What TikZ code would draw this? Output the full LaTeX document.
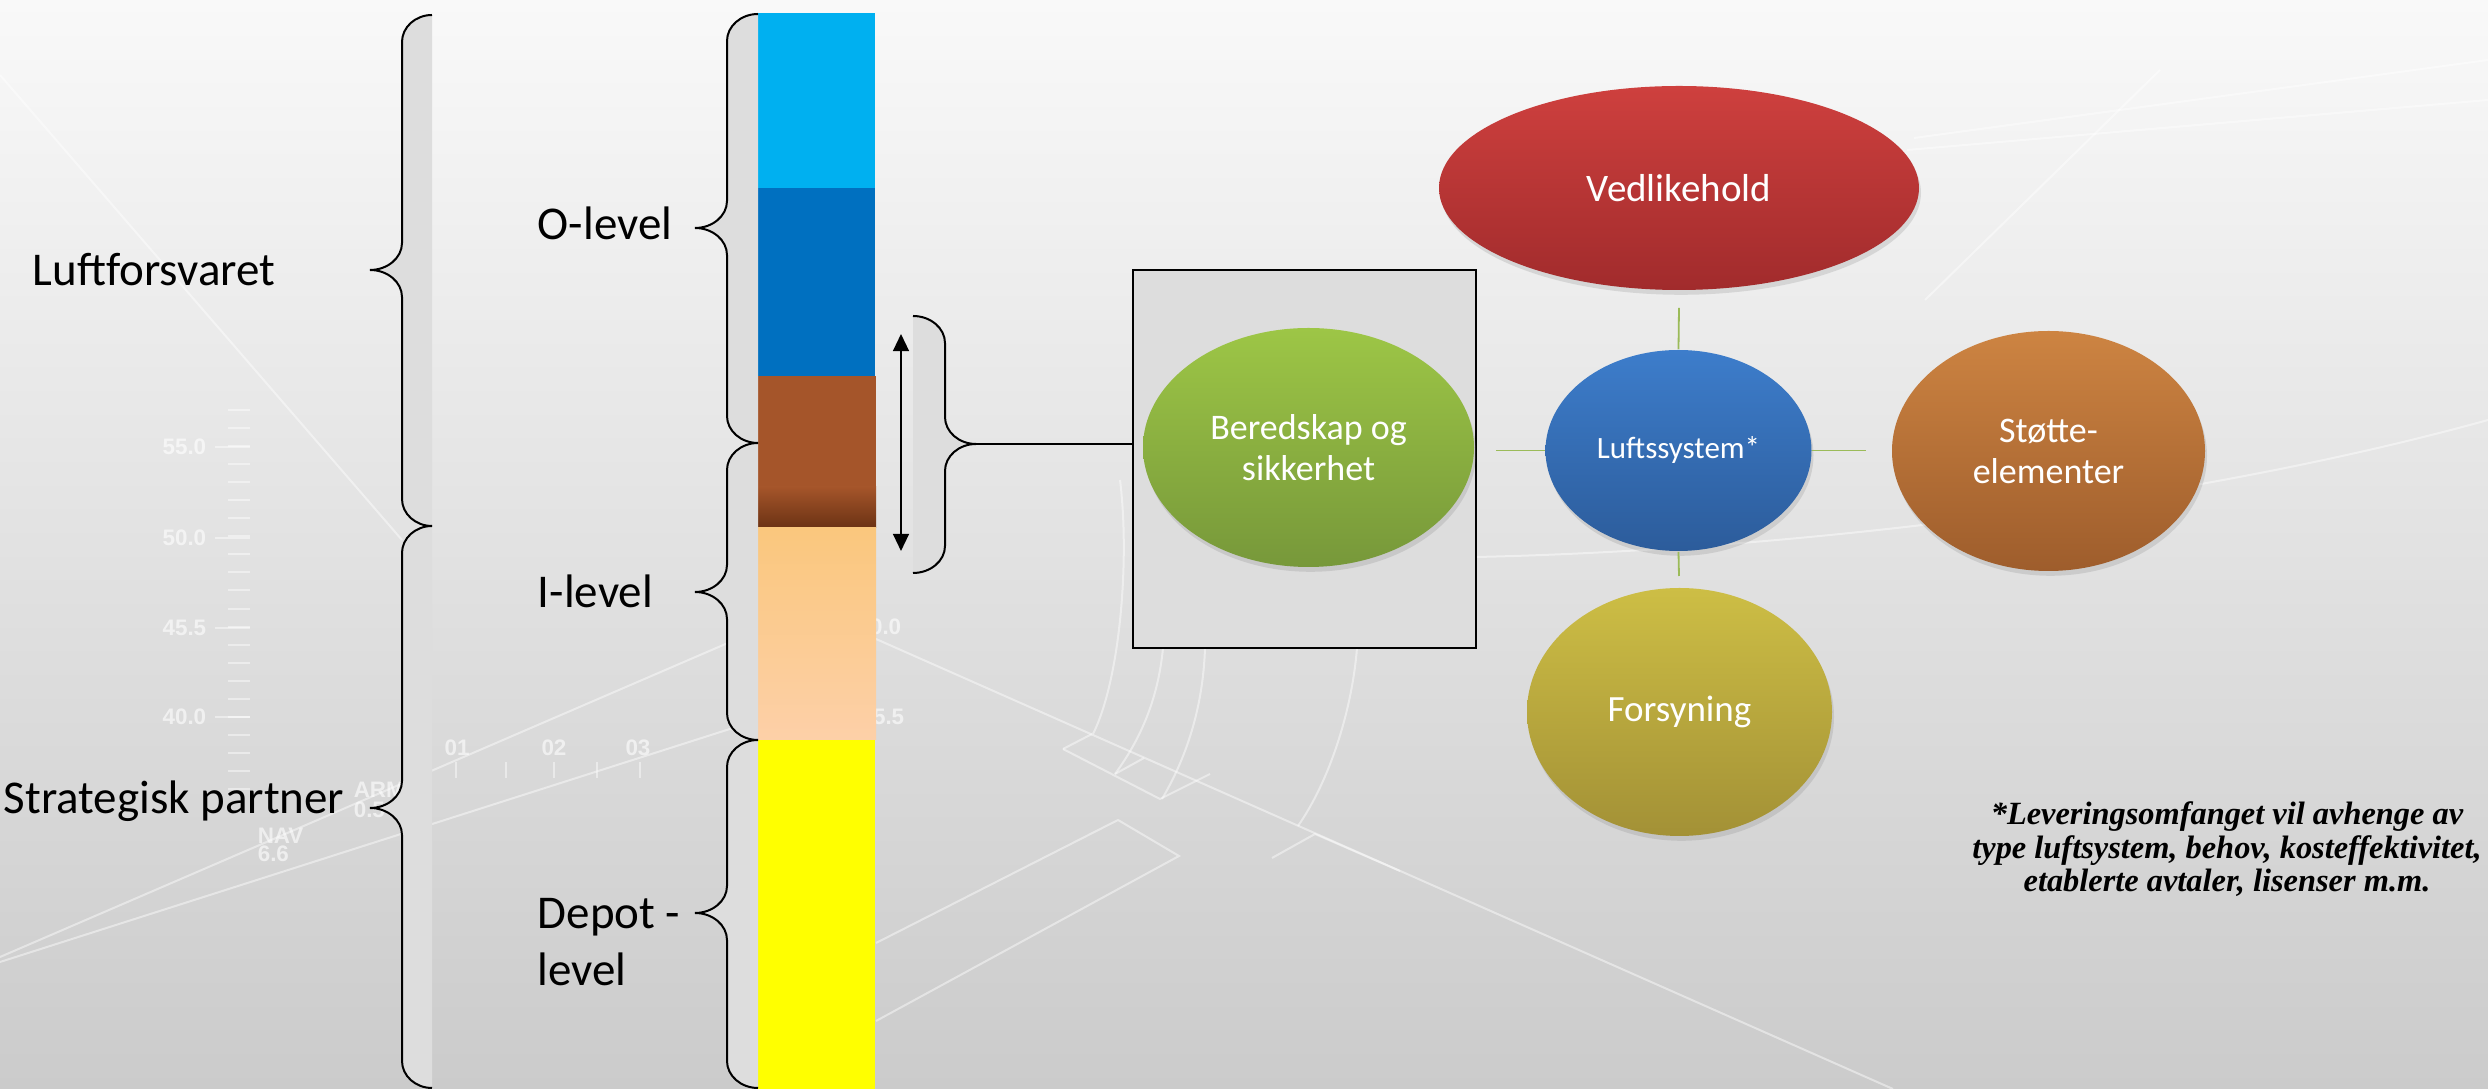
\documentclass[tikz,border=0pt]{standalone}
\usepackage{fontspec}
\setmainfont{Carlito}
\newfontfamily\notefont{Liberation Serif}
\newfontfamily\hudfont{Liberation Sans}
\usetikzlibrary{arrows.meta,shapes.geometric,shadows}
\definecolor{bgtop}{RGB}{249,249,249}
\definecolor{bgbot}{RGB}{203,203,203}
\definecolor{bracefill}{RGB}{221,221,221}
\definecolor{boxgray}{RGB}{221,221,221}
\definecolor{lblue}{RGB}{0,176,240}
\definecolor{dblue}{RGB}{0,112,192}
\definecolor{brownA}{RGB}{165,85,42}
\definecolor{brownB}{RGB}{107,50,20}
\definecolor{peachT}{RGB}{250,199,125}
\definecolor{peachB}{RGB}{253,208,168}
\definecolor{yel}{RGB}{255,255,0}
\definecolor{vedT}{RGB}{206,64,62}
\definecolor{vedB}{RGB}{161,43,44}
\definecolor{grT}{RGB}{157,198,70}
\definecolor{grB}{RGB}{119,152,58}
\definecolor{blT}{RGB}{61,125,203}
\definecolor{blB}{RGB}{44,92,155}
\definecolor{orT}{RGB}{205,132,66}
\definecolor{orB}{RGB}{158,93,44}
\definecolor{olT}{RGB}{205,190,69}
\definecolor{olB}{RGB}{163,145,54}
\definecolor{spokecol}{RGB}{155,187,89}
\tikzset{
  braceline/.style={draw=black,line width=0.5pt},
  bracearea/.style={fill=bracefill},
  hud/.style={draw=white,line width=0.5pt,opacity=0.45},
  hudtxt/.style={text=white,opacity=0.6,font=\hudfont\bfseries\fontsize{5.6pt}{6pt}\selectfont,inner sep=0pt},
  lbl/.style={font=\fontsize{11.75pt}{14.25pt}\selectfont,inner sep=0pt,align=left},
  bub/.style={ellipse,inner sep=0pt,text=white,align=center,
    drop shadow={shadow xshift=0.5pt,shadow yshift=-1.2pt,opacity=0.22}},
  bubtxt/.style={font=\fontsize{9pt}{10.25pt}\selectfont},
  spoke/.style={draw=spokecol,line width=0.45pt},
  note/.style={font=\notefont\bfseries\itshape\fontsize{8.1pt}{8.4pt}\selectfont,align=center,inner sep=0pt}
}
% #1 edge x, #2 vertical x, #3 tip x, #4 top y, #5 tip y, #6 bottom y, #7 radius
\newcommand{\drawbrace}[7]{%
  \fill[bracearea] (#1,#4) .. controls ({#1-0.55*(#1-#2)},#4) and (#2,{#4+0.45*#7}) .. (#2,{#4+#7})
    -- (#2,{#5-#7}) .. controls (#2,{#5-0.45*#7}) and ({#3+0.55*(#2-#3)},#5) .. (#3,#5)
    .. controls ({#3+0.55*(#2-#3)},#5) and (#2,{#5+0.45*#7}) .. (#2,{#5+#7})
    -- (#2,{#6-#7}) .. controls (#2,{#6-0.45*#7}) and ({#1-0.55*(#1-#2)},#6) .. (#1,#6) -- cycle;
  \draw[braceline] (#1,#4) .. controls ({#1-0.55*(#1-#2)},#4) and (#2,{#4+0.45*#7}) .. (#2,{#4+#7})
    -- (#2,{#5-#7}) .. controls (#2,{#5-0.45*#7}) and ({#3+0.55*(#2-#3)},#5) .. (#3,#5)
    .. controls ({#3+0.55*(#2-#3)},#5) and (#2,{#5+0.45*#7}) .. (#2,{#5+#7})
    -- (#2,{#6-#7}) .. controls (#2,{#6-0.45*#7}) and ({#1-0.55*(#1-#2)},#6) .. (#1,#6);}
\begin{document}
\begin{tikzpicture}[x=0.25pt,y=-0.25pt]
\useasboundingbox (0,0) rectangle (2488,1089);
\fill[top color=bgtop,bottom color=bgbot] (0,0) rectangle (2488,1089);
% faint HUD background
\foreach \k in {0,...,21} \draw[hud] (228,{410+18.05*\k}) -- (250,{410+18.05*\k});
\foreach \yy in {447,538,628,717} \draw[hud] (215,\yy) -- (250,\yy);
\node[hudtxt,anchor=east] (h55) at (207,447) {55.0};
\node[hudtxt,anchor=east] (h50) at (207,538) {50.0};
\node[hudtxt,anchor=east] (h45) at (207,628) {45.5};
\node[hudtxt,anchor=east] (h40) at (207,717) {40.0};
\node[hudtxt,anchor=east] (r50) at (902,627) {50.0};
\node[hudtxt,anchor=east] (r45) at (905,717) {45.5};
\node[hudtxt] (n01) at (457,748) {01};
\node[hudtxt] (n02) at (554,748) {02};
\node[hudtxt] (n03) at (638,748) {03};
\foreach \xx in {456,506,554,597,640} \draw[hud] (\xx,762) -- (\xx,778);
\node[hudtxt,anchor=west] (arm) at (353,790) {ARM};
\node[hudtxt,anchor=west] (arm2) at (353,810) {0.5};
\node[hudtxt,anchor=west] (nav) at (257,836) {NAV};
\node[hudtxt,anchor=west] (nav2) at (257,854) {6.6};
\draw[hud] (0,957) -- (758,630);
\draw[hud] (0,962) -- (758,720);
\draw[hud] (0,75) -- (402,540);
\draw[hud] (876,639) -- (1893,1089);
\draw[hud] (876,943) -- (1118,820) -- (1179,856) -- (876,1021);
\draw[hud] (1272,858) -- (1315,834) -- (1400,871);
\draw[hud] (1063,749) -- (1092,734);
\draw[hud] (1063,749) -- (1160,799) -- (1210,774);
\draw[hud] (1115,774) -- (1144,758);
\draw[hud] (1120,480) .. controls (1130,560) and (1120,680) .. (1093,734);
\draw[hud] (1163,648) .. controls (1158,700) and (1140,740) .. (1115,774);
\draw[hud] (1205,648) .. controls (1203,710) and (1185,760) .. (1162,799);
\draw[hud] (1357,648) .. controls (1352,710) and (1330,780) .. (1298,826);
\draw[hud] (1476,557) .. controls (1800,550) and (2200,500) .. (2488,420);
\draw[hud] (1914,138) -- (2488,60);
\draw[hud] (1907,150) -- (2488,100);
\draw[hud] (2160,70) -- (1925,300);
% level bar
\fill[lblue] (758,13) rectangle (875,188);
\fill[dblue] (758,188) rectangle (875,376);
\fill[brownA] (758,376) rectangle (876,488);
\fill[top color=brownA,bottom color=brownB] (758,487) rectangle (876,528);
\fill[top color=peachT,middle color=peachT!80!peachB,bottom color=peachB] (758,528) rectangle (876,740);
\fill[yel] (758,740) rectangle (875,1089);
% braces
\drawbrace{432}{402}{370}{15}{270}{526}{27}
\drawbrace{432}{402}{370}{526}{808}{1088}{27}
\drawbrace{758}{727}{695}{14}{228}{443}{27}
\drawbrace{758}{727}{695}{443}{592}{740}{27}
\drawbrace{758}{727}{695}{740}{913}{1088}{27}
\drawbrace{913}{945}{976}{316}{444}{573}{27}
% labels
\node[lbl,anchor=base west] (luft) at (32,286) {Luftforsvaret};
\node[lbl,anchor=base west] (strat) at (3,814) {Strategisk partner};
\node[lbl,anchor=base west] (olev) at (537,240) {O-level};
\node[lbl,anchor=base west] (ilev) at (537,608) {I-level};
\node[lbl,anchor=base west] (dlev) at (537,986) {Depot -\\level};
% double arrow
\coordinate (arT) at (901,334);
\coordinate (arB) at (901,551);
\draw[line width=0.45pt,{Triangle[length=4.3pt,width=4pt]}-{Triangle[length=4.3pt,width=4pt]}] (arT) -- (arB);
% box and connector
\node[draw=black,line width=0.5pt,fill=boxgray,minimum width=85.75pt,minimum height=94.5pt,inner sep=0pt] (box) at (1304.5,459) {};
\coordinate (rbtip) at (976,444);
\draw[braceline] (rbtip) -- (rbtip -| box.west);
% bubbles
\node[bub,bubtxt,top color=blT,bottom color=blB,minimum width=66.5pt,minimum height=50.25pt,font=\fontsize{7.75pt}{9pt}\selectfont] (lufts) at (1678.5,450.5) {Luftssystem*};
\coordinate (sT) at (1679,308);
\coordinate (sB) at (1679,576);
\coordinate (sL) at (1496,450.5);
\coordinate (sR) at (1866,450.5);
\draw[spoke] (lufts.north) -- (sT);
\draw[spoke] (lufts.south) -- (sB);
\draw[spoke] (lufts.west) -- (sL);
\draw[spoke] (lufts.east) -- (sR);
\node[bub,top color=vedT,bottom color=vedB,minimum width=120pt,minimum height=51pt,font=\fontsize{9.75pt}{11pt}\selectfont] (ved) at (1679,188) {Vedlikehold};
\node[bub,bubtxt,top color=grT,bottom color=grB,minimum width=82.75pt,minimum height=59.75pt] (bered) at (1308.5,447.5) {Beredskap og\\sikkerhet};
\node[bub,bubtxt,top color=orT,bottom color=orB,minimum width=78.25pt,minimum height=60pt] (stotte) at (2048.5,451) {Støtte-\\elementer};
\node[bub,bubtxt,top color=olT,bottom color=olB,minimum width=76.25pt,minimum height=62pt,font=\fontsize{9.25pt}{10.5pt}\selectfont] (fors) at (1679.5,712) {Forsyning};
% footnote
\node[note,anchor=base] (fn) at (2227,892) {*Leveringsomfanget vil avhenge av\\type luftsystem, behov, kosteffektivitet,\\etablerte avtaler, lisenser m.m.};
\end{tikzpicture}
\end{document}
